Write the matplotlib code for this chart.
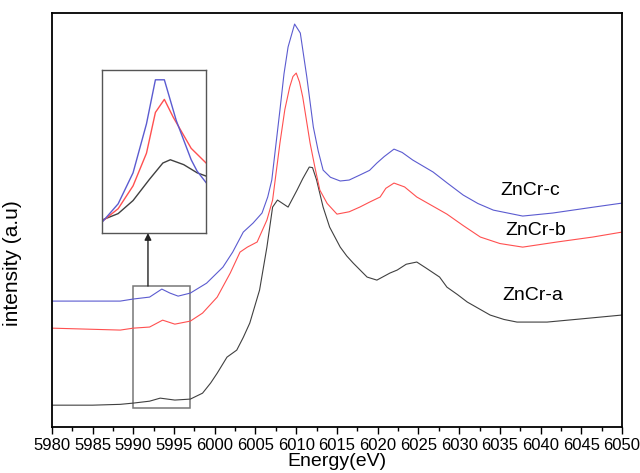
import matplotlib.pyplot as plt
import matplotlib.patches as patches

plt.rcParams['font.family'] = ['Liberation Sans', 'DejaVu Sans']

# ZnCr-a (black)
energy_a = [5980, 5985, 5988.4, 5990.0, 5992.0, 5993.3, 5995.1, 5997.0, 5998.5, 5999.5,
            6000.3, 6001.5, 6002.7, 6003.5, 6004.3, 6005.5, 6006.4, 6007.1, 6007.7, 6009.0,
            6010.1, 6010.8, 6011.6, 6012.0, 6012.5, 6013.3, 6014.1, 6015.4, 6016.2, 6017.0,
            6018.7, 6019.9, 6021.5, 6022.4, 6023.5, 6024.8, 6026.0, 6027.6, 6028.5, 6029.8,
            6031.0, 6033.8, 6035.5, 6037.1, 6040.8, 6044.8, 6050.0]
int_a = [0.159, 0.159, 0.165, 0.174, 0.188, 0.210, 0.196, 0.203, 0.246, 0.320,
         0.391, 0.507, 0.558, 0.650, 0.754, 0.993, 1.304, 1.594, 1.645, 1.594,
         1.717, 1.800, 1.884, 1.880, 1.790, 1.594, 1.449, 1.304, 1.240, 1.188,
         1.087, 1.065, 1.116, 1.138, 1.180, 1.196, 1.150, 1.087, 1.014, 0.960,
         0.906, 0.812, 0.780, 0.761, 0.761, 0.783, 0.812]

# ZnCr-b (red)
energy_b = [5980, 5988.4, 5990.0, 5992.0, 5993.6, 5995.1, 5997.0, 5998.5, 6000.3, 6001.9,
            6003.1, 6004.0, 6005.2, 6006.4, 6007.1, 6008.0, 6008.6, 6009.2, 6009.6, 6010.0,
            6010.4, 6010.8, 6011.7, 6012.3, 6012.9, 6013.8, 6015.0, 6016.5, 6017.8, 6019.0,
            6020.3, 6021.0, 6022.0, 6023.3, 6024.8, 6026.5, 6028.5, 6030.5, 6032.6, 6035.0,
            6037.8, 6042.0, 6046.4, 6050.0]
int_b = [0.717, 0.703, 0.717, 0.725, 0.775, 0.746, 0.768, 0.826, 0.942, 1.116,
         1.268, 1.304, 1.341, 1.500, 1.645, 2.058, 2.300, 2.464, 2.540, 2.565,
         2.500, 2.391, 2.058, 1.880, 1.717, 1.620, 1.543, 1.560, 1.594, 1.630,
         1.667, 1.730, 1.768, 1.740, 1.667, 1.610, 1.543, 1.460, 1.377, 1.330,
         1.304, 1.341, 1.377, 1.413]

# ZnCr-c (blue)
energy_c = [5980, 5988.4, 5990.0, 5992.0, 5993.5, 5994.5, 5995.5, 5997.0, 5999.0, 6001.0,
            6002.2, 6003.5, 6004.7, 6005.8, 6006.5, 6007.0, 6008.0, 6008.5, 6009.0, 6009.8,
            6010.5, 6011.3, 6012.1, 6012.7, 6013.3, 6014.2, 6015.4, 6016.5, 6017.8, 6019.0,
            6019.9, 6020.8, 6022.0, 6023.0, 6024.3, 6026.8, 6028.5, 6030.5, 6032.3, 6034.2,
            6037.8, 6041.5, 6045.7, 6050.0]
int_c = [0.913, 0.913, 0.928, 0.942, 1.000, 0.971, 0.949, 0.971, 1.043, 1.159,
         1.268, 1.413, 1.478, 1.551, 1.667, 1.790, 2.297, 2.560, 2.754, 2.920,
         2.855, 2.536, 2.174, 2.000, 1.862, 1.810, 1.783, 1.790, 1.826, 1.860,
         1.913, 1.960, 2.014, 1.990, 1.935, 1.848, 1.770, 1.681, 1.620, 1.572,
         1.529, 1.551, 1.587, 1.623]

# pre-edge zoom (inset)
inset_e_a = [5990.0, 5991.1, 5992.1, 5993.2, 5994.1, 5994.6, 5995.5, 5996.4, 5997.0]
inset_a = [0.08, 0.12, 0.20, 0.33, 0.43, 0.45, 0.42, 0.37, 0.35]
inset_e_b = [5990.0, 5991.1, 5992.1, 5993.0, 5993.6, 5994.2, 5994.8, 5996.0, 5997.0]
inset_b = [0.07, 0.15, 0.29, 0.49, 0.74, 0.82, 0.71, 0.52, 0.43]
inset_e_c = [5990.0, 5991.1, 5992.1, 5993.0, 5993.6, 5994.2, 5995.0, 5996.0, 5996.4, 5997.0]
inset_c = [0.065, 0.18, 0.37, 0.67, 0.94, 0.94, 0.69, 0.45, 0.38, 0.31]

col_a = '#404040'
col_b = '#ff5050'
col_c = '#5b5bd0'

fig = plt.figure(figsize=(6.4, 4.73), dpi=100)
ax = fig.add_axes([0.081, 0.097, 0.891, 0.8755])

ax.plot(energy_a, int_a, color=col_a, lw=0.8)
ax.plot(energy_b, int_b, color=col_b, lw=0.8)
ax.plot(energy_c, int_c, color=col_c, lw=0.8)

ax.set_xlim(5980, 6050)
ax.set_ylim(0, 3.0)
ax.set_xticks(range(5980, 6051, 5))
ax.set_xticks([x + 2.5 for x in range(5980, 6050, 5)], minor=True)
ax.set_yticks([])
ax.tick_params(axis='x', which='major', direction='out', length=5, width=1, labelsize=12, pad=3)
ax.tick_params(axis='x', which='minor', direction='out', length=3, width=1)
for s in ax.spines.values():
    s.set_linewidth(1.3)

ax.set_xlabel('Energy(eV)', fontsize=14, labelpad=0)
ax.set_ylabel('intensity (a.u)', fontsize=15)
ax.yaxis.set_label_coords(-0.053, 0.396)

ax.text(6038.7, 1.717, 'ZnCr-c', fontsize=14, ha='center', va='center')
ax.text(6039.4, 1.428, 'ZnCr-b', fontsize=14, ha='center', va='center')
ax.text(6039.1, 0.957, 'ZnCr-a', fontsize=14, ha='center', va='center')

# box around pre-edge region
ax.add_patch(patches.Rectangle((5990, 0.138), 7, 0.884, fill=False,
                               edgecolor='#777777', lw=1.1))
ax.annotate('', xy=(5991.8, 1.406), xytext=(5991.8, 1.022),
            arrowprops=dict(arrowstyle='-|>', color='#222222', lw=1,
                            mutation_scale=10, shrinkA=0, shrinkB=0))

ins = fig.add_axes([0.159, 0.507, 0.163, 0.345])
ins.plot(inset_e_a, inset_a, color=col_a, lw=1)
ins.plot(inset_e_b, inset_b, color=col_b, lw=1)
ins.plot(inset_e_c, inset_c, color=col_c, lw=1)
ins.set_xlim(5990, 5997)
ins.set_ylim(0, 1)
ins.set_xticks([])
ins.set_yticks([])
for s in ins.spines.values():
    s.set_color('#555555')
    s.set_linewidth(1)

fig.savefig('out.png', dpi=100)
